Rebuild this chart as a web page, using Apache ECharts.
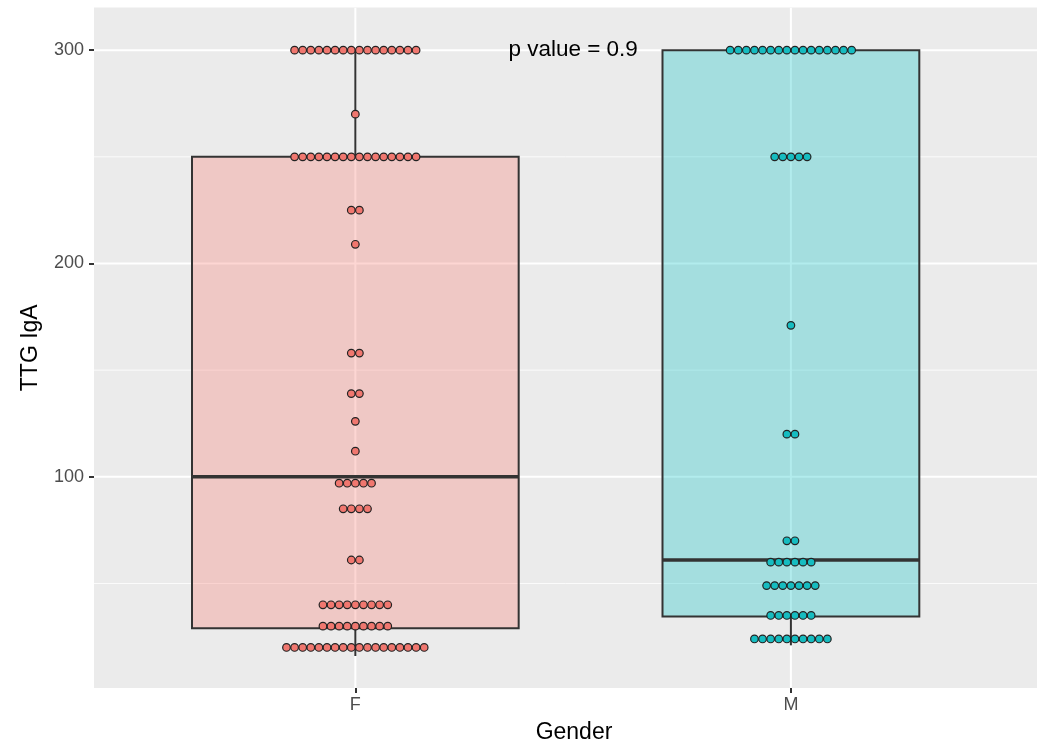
<!DOCTYPE html>
<html>
<head>
<meta charset="utf-8">
<script src="https://cdn.jsdelivr.net/npm/echarts@6/dist/echarts.min.js"></script>
<style>
  html, body { margin: 0; padding: 0; background: #ffffff; }
  #chart { width: 1037px; height: 746px; }
</style>
</head>
<body>
<div id="chart"></div>
<script>
// ---------- data ----------
const categories = ['F', 'M'];

// dot-plot rows: bin value and number of stacked dots
const F_values = [300, 270, 250, 225, 209, 158, 139, 126, 112, 97, 85, 61, 40, 30, 20];
const F_counts = [16, 1, 16, 2, 1, 2, 2, 1, 1, 5, 4, 2, 9, 9, 18];
const M_values = [300, 250, 171, 120, 70, 60, 49, 35, 24];
const M_counts = [16, 5, 1, 2, 2, 6, 7, 6, 10];

// box statistics: [lower whisker, Q1, median, Q3, upper whisker]
const F_box = [16, 29, 100, 250, 300];
const M_box = [21, 34.5, 61, 300, 300];

const yTickValues = [100, 200, 300];
const yMinorValues = [50, 150, 250];
const xTickValues = [1, 2];

const pLabel = 'p value = 0.9';
const pLabelX = 1.5;
const pLabelY = 300;

// ---------- styling ----------
const dotFill = ['#F0776F', '#16BCC0'];
const boxFill = ['rgba(248,118,109,0.3)', 'rgba(0,191,196,0.3)'];
const FONT = '"Liberation Sans", Arial, sans-serif';
const DOT_STEP = 8.1, DOT_R = 3.8;

const sum = a => a.reduce((s, v) => s + v, 0);
const nF = sum(F_counts), nM = sum(M_counts);
const nMax = Math.max(nF, nM);
const widths = [0.75 * Math.sqrt(nF / nMax), 0.75 * Math.sqrt(nM / nMax)];

const boxData = [
  [1].concat(F_box, [widths[0], 0]),
  [2].concat(M_box, [widths[1], 1])
];

const dotData = [];
F_values.forEach((v, i) => dotData.push([1, v, F_counts[i], 0]));
M_values.forEach((v, i) => dotData.push([2, v, M_counts[i], 1]));

const gridData = [];
yMinorValues.forEach(v => gridData.push(['y', v, 0]));
yTickValues.forEach(v => gridData.push(['y', v, 1]));
xTickValues.forEach(v => gridData.push(['x', v, 1]));

const chart = echarts.init(document.getElementById('chart'), null, { renderer: 'canvas' });

const option = {
  animation: false,
  backgroundColor: '#ffffff',
  grid: {
    left: 94, right: 0, top: 7.5, bottom: 58,
    outerBoundsMode: 'none', containLabel: false,
    show: true, backgroundColor: '#EBEBEB', borderWidth: 0
  },
  xAxis: {
    type: 'value', min: 0.4, max: 2.565,
    axisLine: { show: false },
    splitLine: { show: false },
    axisTick: { show: true, customValues: xTickValues, length: 5, lineStyle: { color: '#333333', width: 2 } },
    axisLabel: {
      customValues: xTickValues, margin: 8,
      formatter: v => categories[Math.round(v) - 1],
      color: '#4D4D4D', fontSize: 18, fontFamily: FONT
    },
    name: 'Gender', nameLocation: 'middle', nameGap: 33,
    nameTextStyle: { color: '#000000', fontSize: 23, fontFamily: FONT, padding: [0, 0, 0, 17] }
  },
  yAxis: {
    type: 'value', min: 1, max: 320,
    axisLine: { show: false },
    splitLine: { show: false },
    axisTick: { show: true, customValues: yTickValues, length: 5, lineStyle: { color: '#333333', width: 2 } },
    axisLabel: {
      customValues: yTickValues, margin: 10,
      color: '#4D4D4D', fontSize: 18, fontFamily: FONT
    },
    name: 'TTG IgA', nameLocation: 'middle', nameGap: 52, nameRotate: 90,
    nameTextStyle: { color: '#000000', fontSize: 23, fontFamily: FONT }
  },
  series: [
    {
      type: 'custom', name: 'gridlines', silent: true, z: 1, clip: true,
      data: gridData,
      encode: { x: [], y: [] },
      renderItem: function (params, api) {
        const cs = params.coordSys;
        const kind = gridData[params.dataIndex][0];
        const v = api.value(1);
        const major = api.value(2) === 1;
        const style = { stroke: '#FFFFFF', lineWidth: major ? 2 : 1, opacity: major ? 1 : 0.8 };
        if (kind === 'y') {
          const p = api.coord([1, v]);
          return { type: 'line', shape: { x1: cs.x, y1: p[1], x2: cs.x + cs.width, y2: p[1] }, style: style };
        } else {
          const p = api.coord([v, 100]);
          return { type: 'line', shape: { x1: p[0], y1: cs.y, x2: p[0], y2: cs.y + cs.height }, style: style };
        }
      }
    },
    {
      type: 'custom', name: 'box', silent: true, z: 2,
      data: boxData,
      encode: { x: 0, y: [1, 5] },
      renderItem: function (params, api) {
        const x = api.value(0);
        const lo = api.coord([x, api.value(1)]);
        const q1 = api.coord([x, api.value(2)]);
        const med = api.coord([x, api.value(3)]);
        const q3 = api.coord([x, api.value(4)]);
        const hi = api.coord([x, api.value(5)]);
        const w = api.size([api.value(6), 0])[0];
        const g = api.value(7);
        const stroke = '#333333';
        return {
          type: 'group',
          children: [
            { type: 'line', shape: { x1: lo[0], y1: lo[1], x2: q1[0], y2: q1[1] }, style: { stroke: stroke, lineWidth: 2 } },
            { type: 'line', shape: { x1: q3[0], y1: q3[1], x2: hi[0], y2: hi[1] }, style: { stroke: stroke, lineWidth: 2 } },
            { type: 'rect', shape: { x: q1[0] - w / 2, y: q3[1], width: w, height: q1[1] - q3[1] },
              style: { fill: boxFill[g], stroke: stroke, lineWidth: 2 } },
            { type: 'line', shape: { x1: med[0] - w / 2, y1: med[1], x2: med[0] + w / 2, y2: med[1] }, style: { stroke: stroke, lineWidth: 3.5 } }
          ]
        };
      }
    },
    {
      type: 'custom', name: 'dots', silent: true, z: 3,
      data: dotData,
      encode: { x: 0, y: 1 },
      renderItem: function (params, api) {
        const x = api.value(0), v = api.value(1), n = api.value(2), g = api.value(3);
        const c = api.coord([x, v]);
        const children = [];
        for (let i = 0; i < n; i++) {
          children.push({
            type: 'circle',
            shape: { cx: c[0] + (i - (n - 1) / 2) * DOT_STEP, cy: c[1], r: DOT_R },
            style: { fill: dotFill[g], stroke: '#222222', lineWidth: 1.2 }
          });
        }
        return { type: 'group', children: children };
      }
    },
    {
      type: 'custom', name: 'pvalue', silent: true, z: 4,
      data: [[pLabelX, pLabelY]],
      encode: { x: 0, y: 1 },
      renderItem: function (params, api) {
        const c = api.coord([api.value(0), api.value(1)]);
        return {
          type: 'text',
          style: { x: c[0], y: c[1], text: pLabel, fill: '#000000', fontSize: 22.5, fontFamily: FONT, align: 'center', verticalAlign: 'middle' }
        };
      }
    }
  ]
};
chart.setOption(option);
</script>
</body>
</html>
